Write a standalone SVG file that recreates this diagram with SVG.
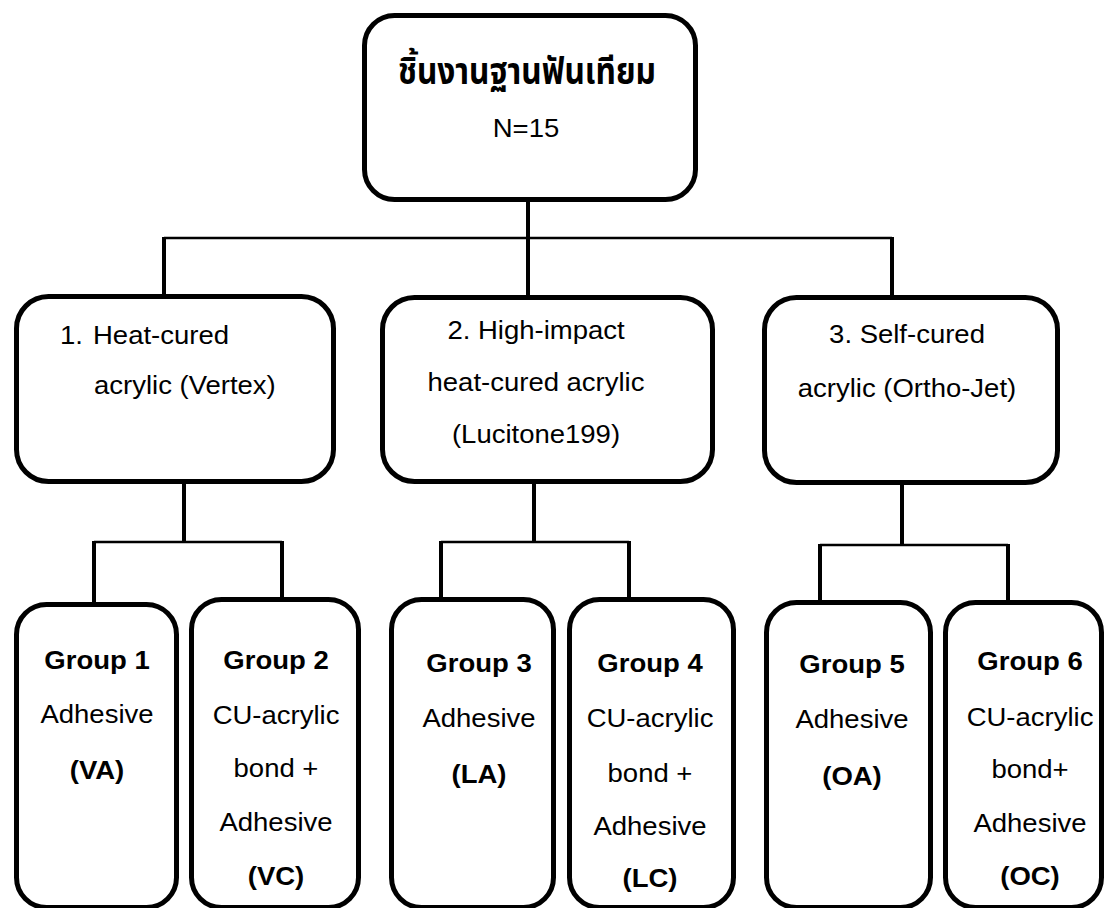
<svg xmlns="http://www.w3.org/2000/svg" width="1105" height="908" viewBox="0 0 1105 908">
<style>
.t{font-family:"Liberation Sans",Arial,sans-serif;font-size:25px;fill:#000}
.b{font-weight:bold}
.m{text-anchor:middle}
.th{font-family:"Noto Sans Thai","Tlwg Typo","Loma","Garuda","Noto Sans","DejaVu Sans",sans-serif;font-size:37px;font-weight:bold;fill:#000;text-anchor:middle}
.box{fill:#fff;stroke:#000;stroke-width:5}
.c{stroke:#000;fill:none;stroke-width:4}
.h{stroke:#000;fill:none;stroke-width:2.5}
</style>
<rect width="1105" height="908" fill="#fff"/>
<g id="connectors">
<line class="c" x1="528" y1="200" x2="528" y2="298"/>
<line class="h" x1="164" y1="238" x2="892" y2="238"/>
<line class="c" x1="164" y1="237" x2="164" y2="297"/>
<line class="c" x1="892" y1="237" x2="892" y2="298"/>
<line class="c" x1="184" y1="482" x2="184" y2="543"/>
<line class="h" x1="94" y1="542" x2="282" y2="542"/>
<line class="c" x1="94" y1="541" x2="94" y2="605"/>
<line class="c" x1="282" y1="541" x2="282" y2="600"/>
<line class="c" x1="534" y1="482" x2="534" y2="543"/>
<line class="h" x1="441" y1="542" x2="629" y2="542"/>
<line class="c" x1="441" y1="541" x2="441" y2="600"/>
<line class="c" x1="629" y1="541" x2="629" y2="600"/>
<line class="c" x1="902" y1="484" x2="902" y2="546"/>
<line class="h" x1="820" y1="545" x2="1008" y2="545"/>
<line class="c" x1="820" y1="544" x2="820" y2="603"/>
<line class="c" x1="1008" y1="544" x2="1008" y2="603"/>
</g>
<g id="root">
<rect class="box" x="364.5" y="15.5" width="331" height="184" rx="30"/>
<text class="th" x="527" y="84" textLength="258" lengthAdjust="spacingAndGlyphs">ชิ้นงานฐานฟันเทียม</text>
<text class="t m" transform="translate(526,137) scale(1.1,1)">N=15</text>
</g>
<g id="material1">
<rect class="box" x="16.5" y="296.5" width="317" height="185" rx="32"/>
<text class="t" transform="translate(60,344) scale(1.1,1)">1.</text>
<text class="t" transform="translate(93,344) scale(1.1,1)">Heat-cured</text>
<text class="t" transform="translate(94,394) scale(1.1,1)">acrylic (Vertex)</text>
</g>
<g id="material2">
<rect class="box" x="382.5" y="297.5" width="330" height="184" rx="32"/>
<text class="t m" transform="translate(536,339) scale(1.1,1)">2. High-impact</text>
<text class="t m" transform="translate(536,391) scale(1.1,1)">heat-cured acrylic</text>
<text class="t m" transform="translate(536,443) scale(1.1,1)">(Lucitone199)</text>
</g>
<g id="material3">
<rect class="box" x="764.5" y="297.5" width="293" height="185" rx="32"/>
<text class="t m" transform="translate(907,343) scale(1.1,1)">3. Self-cured</text>
<text class="t m" transform="translate(907,397) scale(1.1,1)">acrylic (Ortho-Jet)</text>
</g>
<g id="group1">
<rect class="box" x="16.5" y="604.5" width="160" height="303" rx="30"/>
<text class="t b m" transform="translate(97,669) scale(1.1,1)">Group 1</text>
<text class="t m" transform="translate(97,723) scale(1.1,1)">Adhesive</text>
<text class="t b m" transform="translate(97,779) scale(1.1,1)">(VA)</text>
</g>
<g id="group2">
<rect class="box" x="191.5" y="599.5" width="167" height="308" rx="30"/>
<text class="t b m" transform="translate(276,669) scale(1.1,1)">Group 2</text>
<text class="t m" transform="translate(276,724) scale(1.1,1)">CU-acrylic</text>
<text class="t m" transform="translate(276,777) scale(1.1,1)">bond +</text>
<text class="t m" transform="translate(276,831) scale(1.1,1)">Adhesive</text>
<text class="t b m" transform="translate(276,885) scale(1.1,1)">(VC)</text>
</g>
<g id="group3">
<rect class="box" x="391.5" y="599.5" width="162" height="308" rx="30"/>
<text class="t b m" transform="translate(479,672) scale(1.1,1)">Group 3</text>
<text class="t m" transform="translate(479,727) scale(1.1,1)">Adhesive</text>
<text class="t b m" transform="translate(479,783) scale(1.1,1)">(LA)</text>
</g>
<g id="group4">
<rect class="box" x="569.5" y="599.5" width="164" height="308" rx="30"/>
<text class="t b m" transform="translate(650,672) scale(1.1,1)">Group 4</text>
<text class="t m" transform="translate(650,727) scale(1.1,1)">CU-acrylic</text>
<text class="t m" transform="translate(650,782) scale(1.1,1)">bond +</text>
<text class="t m" transform="translate(650,835) scale(1.1,1)">Adhesive</text>
<text class="t b m" transform="translate(650,887) scale(1.1,1)">(LC)</text>
</g>
<g id="group5">
<rect class="box" x="766.5" y="602.5" width="164" height="305" rx="30"/>
<text class="t b m" transform="translate(852,673) scale(1.1,1)">Group 5</text>
<text class="t m" transform="translate(852,728) scale(1.1,1)">Adhesive</text>
<text class="t b m" transform="translate(852,785) scale(1.1,1)">(OA)</text>
</g>
<g id="group6">
<rect class="box" x="945.5" y="602.5" width="156" height="305" rx="30"/>
<text class="t b m" transform="translate(1030,670) scale(1.1,1)">Group 6</text>
<text class="t m" transform="translate(1030,726) scale(1.1,1)">CU-acrylic</text>
<text class="t m" transform="translate(1030,778) scale(1.1,1)">bond+</text>
<text class="t m" transform="translate(1030,832) scale(1.1,1)">Adhesive</text>
<text class="t b m" transform="translate(1030,885) scale(1.1,1)">(OC)</text>
</g>
</svg>
